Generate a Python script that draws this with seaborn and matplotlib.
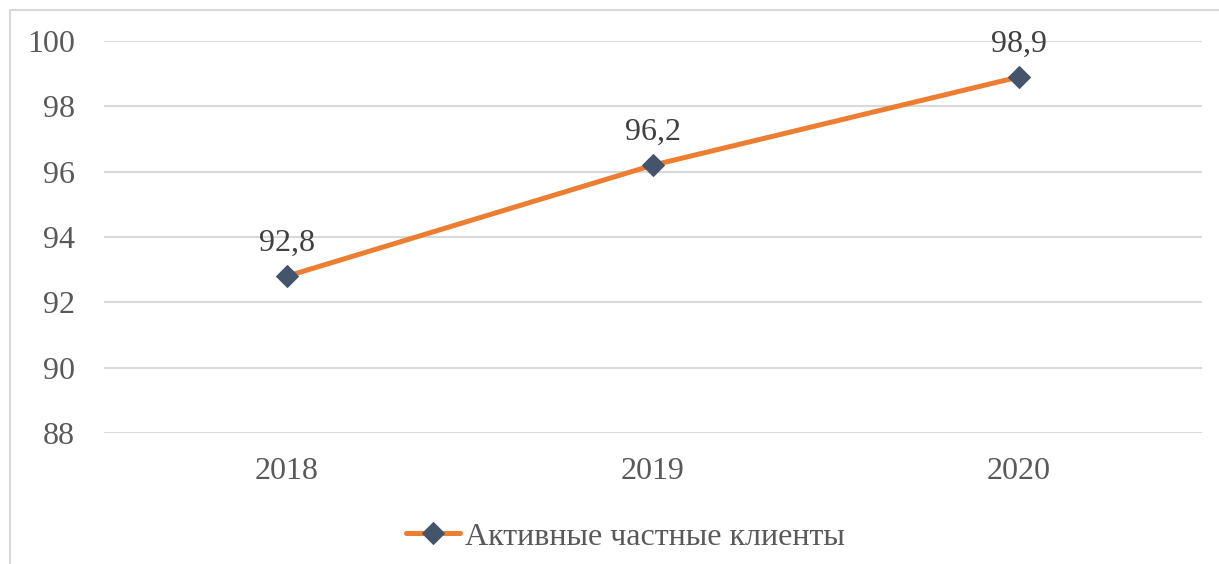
import matplotlib
matplotlib.use("Agg")
import matplotlib.pyplot as plt
from matplotlib.lines import Line2D
import seaborn as sns
import pandas as pd

# chart data
years = ["2018", "2019", "2020"]
clients = [92.8, 96.2, 98.9]
series_name = "Активные частные клиенты"
y_ticks = [88, 90, 92, 94, 96, 98, 100]

df = pd.DataFrame({"year": years, "value": clients})

sns.set_style("whitegrid")
plt.rcParams["font.family"] = ["Liberation Serif", "DejaVu Serif"]

fig = plt.figure(figsize=(12.19, 5.64), dpi=100)
ax = fig.add_axes([104 / 1219, 131 / 564, 1098 / 1219, 392 / 564])

sns.lineplot(data=df, x="year", y="value", ax=ax, color="#ED7D31", linewidth=3.6,
             marker="D", markersize=11, markerfacecolor="#44546A",
             markeredgecolor="#44546A", label=series_name, sort=False)

# data labels
for i, v in enumerate(clients):
    ax.annotate(str(v).replace(".", ","), (i, v), xytext=(0, 13), textcoords="offset points",
                ha="center", va="bottom", fontsize=23, color="#404040")

ax.set_xlim(-0.5, 2.5)
ax.set_ylim(88, 100)
ax.set_yticks(y_ticks)
ax.set_xlabel("")
ax.set_ylabel("")
ax.grid(axis="x", visible=False)
ax.grid(axis="y", color="#D9D9D9", linewidth=1.5)
for s in ax.spines.values():
    s.set_visible(False)
ax.tick_params(axis="both", length=0, labelsize=23, labelcolor="#595959")
ax.tick_params(axis="y", pad=21)
ax.tick_params(axis="x", pad=17)

ax.legend(loc="center", bbox_to_anchor=(0.4745, -0.265), frameon=False, fontsize=23,
          labelcolor="#595959", handlelength=1.7, handletextpad=0.15)

# outer chart border (top and left visible)
fig.add_artist(Line2D([10 / 1219, 10 / 1219], [0, 554 / 564], color="#D9D9D9", lw=1.5))
fig.add_artist(Line2D([10 / 1219, 1], [554 / 564, 554 / 564], color="#D9D9D9", lw=1.5))

fig.savefig("out.png", dpi=100)
